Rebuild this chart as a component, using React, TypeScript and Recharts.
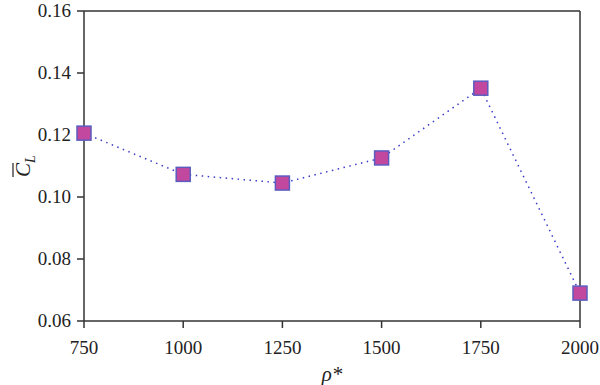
import { LineChart, Line, XAxis, YAxis, ReferenceLine } from "recharts";

const rho = [750, 1000, 1250, 1500, 1750, 2000];
const cl = [0.1206, 0.1073, 0.1045, 0.1126, 0.1351, 0.0690];
const xTicks = [750, 1000, 1250, 1500, 1750, 2000];
const yTicks = [0.06, 0.08, 0.1, 0.12, 0.14, 0.16];

const data = rho.map((r, i) => ({ rho: r, cl: cl[i] }));

const FONT = "'Liberation Serif', 'DejaVu Serif', serif";
const AXIS = "#333333";

const SquareDot = (props: any) => {
  const { cx, cy } = props;
  if (cx == null || cy == null) return null;
  return (
    <rect x={cx - 7} y={cy - 7} width={14} height={14}
      fill="#c2489f" stroke="#5b5cc0" strokeWidth={1.5} />
  );
};

const XTick = ({ x, y, payload }: any) => (
  <text x={x} y={y + 24} textAnchor="middle" fontFamily={FONT} fontSize={19} fill="#222">
    {payload.value}
  </text>
);

const YTick = ({ x, y, payload }: any) => (
  <text x={x - 4} y={y + 6} textAnchor="end" fontFamily={FONT} fontSize={19} fill="#222">
    {Number(payload.value).toFixed(2)}
  </text>
);

const YLabel = () => (
  <g transform="translate(30,166) rotate(-90)">
    <text x={0} y={0} textAnchor="middle" fontFamily={FONT} fontStyle="italic" fontSize={21} fill="#222">
      C<tspan fontSize={14} dy={5}>L</tspan>
    </text>
    <line x1={-11} x2={3} y1={-17} y2={-17} stroke="#222" strokeWidth={1.2} />
  </g>
);

export default function App() {
  return (
    <div style={{ position: "absolute", left: 0, top: 0, background: "#fff" }}>
      <LineChart width={600} height={385} data={data}
        margin={{ top: 11, right: 20, left: 24, bottom: 0 }}>
        <XAxis dataKey="rho" type="number" domain={[750, 2000]} ticks={xTicks}
          height={64} stroke={AXIS} strokeWidth={1.5} tickSize={7}
          tick={<XTick />}
          label={{ value: "ρ*", position: "insideBottom", offset: 4, fontSize: 21, fontStyle: "italic", fill: "#222", fontFamily: FONT }} />
        <YAxis type="number" domain={[0.06, 0.16]} ticks={yTicks} width={60}
          stroke={AXIS} strokeWidth={1.5} tickSize={7}
          tick={<YTick />} />
        <ReferenceLine y={0.16} stroke={AXIS} strokeWidth={1.5} />
        <ReferenceLine x={2000} stroke={AXIS} strokeWidth={1.5} />
        <Line dataKey="cl" stroke="#3a3acb" strokeWidth={1.5} strokeDasharray="1.5 4.5"
          dot={<SquareDot />} activeDot={false} isAnimationActive={false} />
        <YLabel />
      </LineChart>
    </div>
  );
}
